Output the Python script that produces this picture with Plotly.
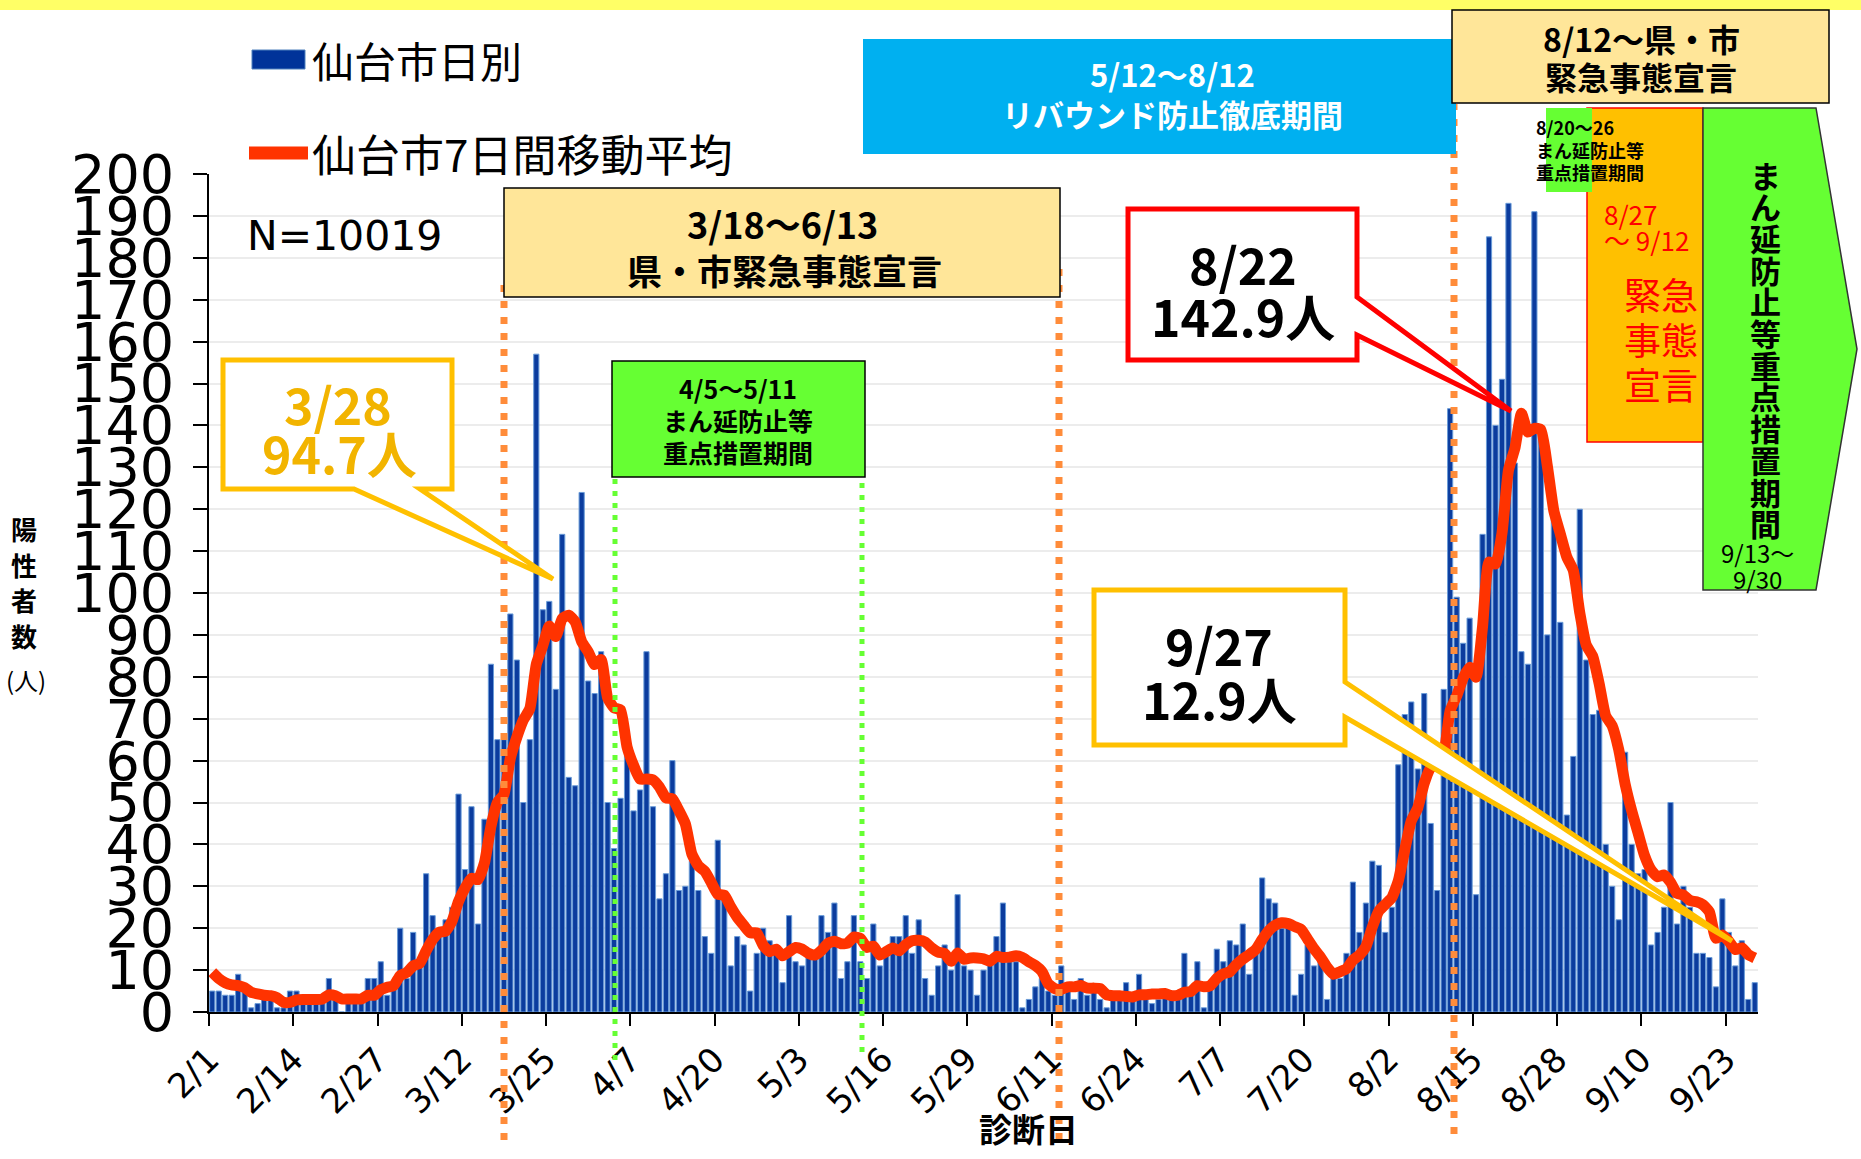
import pandas as pd
import plotly.graph_objects as go

# ---------------- data ----------------
start_date = "2021-02-01"

daily_cases = [
    5, 5, 4, 4, 9, 5, 1, 2, 3, 3,
    1, 1, 5, 5, 3, 3, 3, 2, 8, 3,
    0, 3, 3, 3, 8, 8, 12, 4, 6, 20,
    8, 19, 12, 33, 23, 18, 22, 25, 52, 34,
    49, 21, 46, 83, 65, 65, 95, 84, 50, 65,
    157, 96, 98, 77, 114, 56, 54, 124, 79, 76,
    86, 50, 39, 51, 62, 48, 53, 86, 49, 27,
    33, 60, 29, 30, 36, 29, 18, 14, 41, 27,
    11, 18, 16, 5, 14, 20, 17, 15, 7, 23,
    12, 11, 13, 14, 23, 19, 26, 8, 12, 23,
    12, 8, 21, 11, 14, 18, 18, 23, 14, 22,
    8, 4, 11, 16, 10, 28, 11, 10, 4, 10,
    12, 18, 26, 12, 12, 1, 3, 6, 8, 5,
    4, 11, 5, 3, 8, 4, 5, 3, 1, 3,
    3, 7, 3, 9, 3, 2, 3, 4, 3, 4,
    14, 4, 12, 1, 6, 15, 12, 17, 16, 21,
    9, 14, 32, 27, 26, 20, 20, 4, 9, 16,
    11, 12, 3, 8, 8, 14, 31, 19, 26, 36,
    35, 19, 25, 59, 71, 74, 58, 76, 45, 29,
    77, 144, 99, 88, 94, 28, 114, 185, 140, 151,
    193, 131, 86, 83, 191, 138, 90, 118, 93, 47,
    61, 120, 84, 71, 72, 40, 30, 22, 62, 40,
    33, 34, 16, 19, 25, 50, 21, 30, 25, 14,
    14, 13, 6, 27, 19, 11, 17, 3, 7,
]

moving_avg = [
    9.5, 8.0, 7.0, 6.5, 6.3, 5.8, 4.7, 4.3, 4.0, 3.9,
    3.4, 2.3, 2.3, 2.9, 3.0, 3.0, 3.0, 3.1, 4.1, 3.9,
    3.1, 3.1, 3.1, 3.1, 4.0, 4.0, 5.3, 5.9, 6.3, 8.7,
    9.4, 11.0, 11.6, 14.6, 17.3, 19.0, 19.3, 21.7, 26.4, 29.6,
    31.9, 31.6, 35.6, 44.3, 50.0, 51.9, 60.6, 65.6, 69.7, 72.4,
    83.0, 87.4, 92.1, 89.6, 93.9, 94.7, 93.1, 88.4, 86.0, 82.9,
    84.1, 75.0, 72.6, 72.1, 63.3, 58.9, 55.6, 55.6, 55.4, 53.7,
    51.1, 50.9, 48.1, 44.9, 37.7, 34.9, 33.6, 30.9, 28.1, 27.9,
    25.1, 22.6, 20.7, 18.9, 18.9, 15.9, 14.4, 15.0, 13.4, 14.4,
    15.4, 15.0, 14.0, 13.6, 14.7, 16.4, 16.9, 16.3, 16.4, 17.9,
    17.6, 15.4, 15.7, 13.6, 14.4, 15.3, 14.6, 16.1, 17.0, 17.1,
    16.7, 15.3, 14.3, 14.0, 12.1, 14.1, 12.6, 12.9, 12.9, 12.7,
    12.1, 13.3, 13.0, 13.1, 13.4, 13.0, 12.0, 11.1, 9.7, 6.7,
    5.6, 5.4, 6.0, 6.0, 6.3, 5.7, 5.7, 5.6, 4.1, 3.9,
    3.9, 3.7, 3.6, 4.1, 4.1, 4.3, 4.3, 4.4, 3.9, 4.0,
    4.7, 4.9, 6.3, 6.0, 6.3, 8.0, 9.1, 9.6, 11.3, 12.6,
    13.7, 14.9, 17.3, 19.4, 20.7, 21.3, 21.1, 20.4, 19.7, 17.4,
    15.1, 13.1, 10.7, 9.0, 9.6, 10.3, 12.4, 13.6, 15.6, 20.3,
    24.1, 25.7, 27.3, 31.3, 38.7, 45.6, 48.7, 54.6, 58.3, 58.9,
    61.4, 71.9, 75.4, 79.7, 82.3, 79.9, 92.0, 107.4, 106.9, 114.3,
    129.3, 134.6, 142.9, 138.4, 139.3, 139.0, 130.3, 119.6, 114.1, 108.6,
    105.4, 95.3, 87.6, 84.9, 78.3, 70.7, 68.3, 62.7, 54.4, 48.1,
    42.7, 37.3, 33.9, 32.3, 32.7, 31.0, 28.3, 27.9, 26.6, 26.3,
    25.6, 23.9, 17.6, 18.4, 16.9, 14.9, 15.3, 13.7, 12.9,
]

tick_labels = ["2/1", "2/14", "2/27", "3/12", "3/25", "4/7", "4/20", "5/3", "5/16",
               "5/29", "6/11", "6/24", "7/7", "7/20", "8/2", "8/15", "8/28", "9/10", "9/23"]
y_tick_values = list(range(0, 201, 10))

series_daily_name = "仙台市日別"
series_avg_name = "仙台市7日間移動平均"

# ---------------- derived axis helpers ----------------
dates = pd.date_range(start_date, periods=len(daily_cases), freq="D")
half_day = pd.Timedelta(hours=12)


def label_to_date(lab):
    m, d = lab.split("/")
    return pd.Timestamp(2021, int(m), int(d))


tick_positions = [label_to_date(l) - half_day for l in tick_labels]
x_range = [dates[0] - half_day, dates[-1] + half_day]

# ---------------- figure ----------------
W, H = 1861, 1159
L, R, T, B = 209, 1758, 174, 1012
CJK = "Noto Sans CJK JP"
NUM = "DejaVu Sans"

fig = go.Figure()
fig.add_trace(go.Bar(
    x=dates, y=daily_cases, name=series_daily_name,
    marker=dict(color="#0B3C9E", line=dict(color="#6A9CD8", width=1)),
    showlegend=False,
))
fig.add_trace(go.Scatter(
    x=dates, y=moving_avg, name=series_avg_name, mode="lines",
    line=dict(color="#FF3300", width=11, shape="spline", smoothing=0.5),
    showlegend=False,
))


def px(x):
    return (x - L) / (R - L)


def py(y):
    return (B - y) / (B - T)


def rect(x0, y0, x1, y1, fill, line_color=None, line_width=0):
    fig.add_shape(type="rect", xref="paper", yref="paper",
                  x0=px(x0), x1=px(x1), y0=py(y1), y1=py(y0),
                  fillcolor=fill, layer="above",
                  line=dict(color=line_color or fill, width=line_width))


def poly(points, fill, line_color, line_width):
    d = "M " + " L ".join(f"{px(x):.5f},{py(y):.5f}" for x, y in points) + " Z"
    fig.add_shape(type="path", xref="paper", yref="paper", path=d,
                  fillcolor=fill, layer="above",
                  line=dict(color=line_color, width=line_width))


def vline(x, y0, y1, color, width, dash):
    fig.add_shape(type="line", xref="paper", yref="paper",
                  x0=px(x), x1=px(x), y0=py(y1), y1=py(y0), layer="above",
                  line=dict(color=color, width=width, dash=dash))


def text(x, y, s, size, color="black", family=CJK, bold=False, xanchor="center"):
    fig.add_annotation(x=px(x), y=py(y), xref="paper", yref="paper",
                       text=f"<b>{s}</b>" if bold else s, showarrow=False,
                       xanchor=xanchor, yanchor="middle",
                       font=dict(size=size, color=color, family=family))


# top yellow stripe
rect(0, 0, W, 10, "#FFFF66")

# vertical dotted period lines
vline(504, 285, 1140, "#FF8C3A", 7, "7px,9px")
vline(1059, 262, 1140, "#FF8C3A", 7, "7px,9px")
vline(1454, 104, 1134, "#FF8C3A", 7, "7px,9px")
vline(615, 476, 1060, "#66FF33", 5, "5px,7px")
vline(862, 476, 1052, "#66FF33", 5, "5px,7px")

# boxes
rect(504, 188, 1060, 297, "#FFE699", "black", 1.5)
text(782, 223, "3/18～6/13", 36, bold=True)
text(784, 269, "県・市緊急事態宣言", 35, bold=True)

rect(612, 361, 865, 477, "#66FF33", "black", 1.5)
text(738, 388, "4/5～5/11", 25, bold=True)
text(738, 420, "まん延防止等", 25, bold=True)
text(738, 452, "重点措置期間", 25, bold=True)

rect(863, 39, 1456, 154, "#00B0F0")
text(1172, 74, "5/12～8/12", 31, color="white", bold=True)
text(1172, 113, "リバウンド防止徹底期間", 31, color="white", bold=True)

rect(1452, 10, 1829, 103, "#FFE699", "black", 1.5)
text(1641, 38, "8/12～県・市", 32, bold=True)
text(1641, 76, "緊急事態宣言", 32, bold=True)

rect(1587, 108, 1703, 442, "#FFC000", "#FF0000", 1.5)
text(1602, 213, "8/27", 26, color="#FF0000", xanchor="left")
text(1602, 239, "～ 9/12", 26, color="#FF0000", xanchor="left")
text(1661, 294, "緊急", 37, color="#FF0000")
text(1661, 339, "事態", 37, color="#FF0000")
text(1661, 384, "宣言", 37, color="#FF0000")

rect(1546, 108, 1592, 192, "#66FF33")
text(1534, 127, "8/20～26", 18, bold=True, xanchor="left")
text(1534, 150, "まん延防止等", 18, bold=True, xanchor="left")
text(1534, 172, "重点措置期間", 18, bold=True, xanchor="left")

poly([(1703, 108), (1816, 108), (1857, 349), (1816, 590), (1703, 590)],
     "#66FF33", "#333333", 1.5)
vertical_chars = "まん延防止等重点措置期間"
for i, ch in enumerate(vertical_chars):
    text(1765, 174 + i * 31.7, ch, 31, bold=True)
text(1757, 552, "9/13～", 24)
text(1757, 578, "9/30", 24)

# callouts
poly([(223, 360), (452, 360), (452, 489), (420, 489), (553, 579), (354, 489), (223, 489)],
     "white", "#FFC000", 5)
text(338, 403, "3/28", 50, color="#F2B400", bold=True)
text(339, 452, "94.7人", 50, color="#F2B400", bold=True)

poly([(1128, 209), (1357, 209), (1357, 297), (1511, 411), (1357, 335), (1357, 360), (1128, 360)],
     "white", "#FF0000", 5)
text(1243, 263, "8/22", 50, bold=True)
text(1243, 315, "142.9人", 50, bold=True)

poly([(1094, 590), (1345, 590), (1345, 682), (1732, 941), (1345, 717), (1345, 745), (1094, 745)],
     "white", "#FFC000", 5)
text(1219, 644, "9/27", 50, bold=True)
text(1219, 698, "12.9人", 50, bold=True)

# legend (drawn)
rect(252, 50, 305, 69, "#003399", "#4F81BD", 1)
text(310, 60, series_daily_name, 42, xanchor="left")
fig.add_shape(type="line", xref="paper", yref="paper", x0=px(249), x1=px(308),
              y0=py(153), y1=py(153), layer="above",
              line=dict(color="#FF3300", width=13))
text(310, 153, series_avg_name, 44, xanchor="left")

text(245, 236, "N=10019", 41, family=NUM, xanchor="left")

# axis titles
for ch, yy in zip("陽性者数", [528, 564, 599, 635]):
    text(24, yy, ch, 26, bold=True)
text(26, 679, "(人)", 24)
text(1028, 1128, "診断日", 33, bold=True)

fig.update_layout(
    width=W, height=H,
    margin=dict(l=L, r=W - R, t=T, b=H - B, autoexpand=False),
    paper_bgcolor="white", plot_bgcolor="white",
    bargap=0.2, showlegend=False,
    font=dict(family=CJK, color="black"),
)
fig.update_xaxes(
    type="date", range=x_range,
    tickmode="array", tickvals=tick_positions, ticktext=tick_labels,
    tickangle=-45, tickfont=dict(family=NUM, size=34, color="black"),
    ticks="outside", ticklen=12, tickwidth=2, tickcolor="black",
    showline=True, linecolor="black", linewidth=2,
    showgrid=False, zeroline=False,
)
fig.update_yaxes(
    range=[0, 200], tickmode="array", tickvals=y_tick_values,
    tickfont=dict(family=NUM, size=54, color="black"),
    ticks="outside", ticklen=14, tickwidth=2, tickcolor="black",
    ticklabelstandoff=8,
    showline=True, linecolor="black", linewidth=2,
    showgrid=True, gridcolor="#ECECEC", gridwidth=1.5, zeroline=False,
)

fig.write_html("out.html", config={"displayModeBar": False},
               post_script="document.body.style.margin='0';document.body.style.overflow='hidden';")
